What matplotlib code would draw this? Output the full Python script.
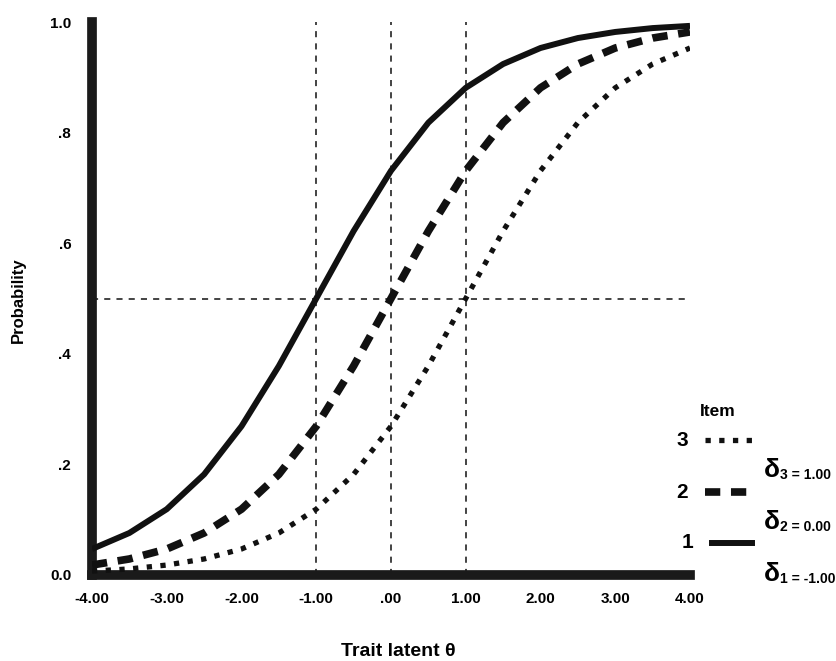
import numpy as np
import matplotlib
matplotlib.use("Agg")
import matplotlib.pyplot as plt
from matplotlib.lines import Line2D

# ---- data ----
theta = [-4.0, -3.5, -3.0, -2.5, -2.0, -1.5, -1.0, -0.5, 0.0,
         0.5, 1.0, 1.5, 2.0, 2.5, 3.0, 3.5, 4.0]
item1 = [0.047, 0.076, 0.119, 0.182, 0.269, 0.378, 0.500, 0.622, 0.731,
         0.818, 0.881, 0.924, 0.953, 0.971, 0.982, 0.989, 0.993]
item2 = [0.018, 0.029, 0.047, 0.076, 0.119, 0.182, 0.269, 0.378, 0.500,
         0.622, 0.731, 0.818, 0.881, 0.924, 0.953, 0.971, 0.982]
item3 = [0.007, 0.011, 0.018, 0.029, 0.047, 0.076, 0.119, 0.182, 0.269,
         0.378, 0.500, 0.622, 0.731, 0.818, 0.881, 0.924, 0.953]
deltas = [-1.0, 0.0, 1.0]
half_prob = 0.5
xticks = [-4, -3, -2, -1, 0, 1, 2, 3, 4]
xticklabels = ["-4.00", "-3.00", "-2.00", "-1.00", ".00", "1.00", "2.00", "3.00", "4.00"]
yticks = [0.0, 0.2, 0.4, 0.6, 0.8, 1.0]
yticklabels = ["0.0", ".2", ".4", ".6", ".8", "1.0"]
legend_items = ["3", "2", "1"]
legend_deltas = ["3 = 1.00", "2 = 0.00", "1 = -1.00"]

W, H = 837, 661
fig = plt.figure(figsize=(W / 100, H / 100), dpi=100)
fig.patch.set_facecolor("white")
FONT = "Liberation Sans"
ink = "#111111"

ax = fig.add_axes([92 / W, 1 - 575 / H, (690 - 92) / W, (575 - 22) / H])
ax.set_xlim(-4, 4)
ax.set_ylim(0, 1)

# reference lines
for d in deltas:
    ax.plot([d, d], [0, 1], color=ink, lw=1.1, ls=(0, (4, 4)), zorder=1)
ax.plot([-4, 4], [half_prob, half_prob], color=ink, lw=1.1, ls=(0, (4, 4)), zorder=1)

# curves
ax.plot(theta, item1, color=ink, lw=4.3, solid_capstyle="butt", zorder=3)
ax.plot(theta, item2, color=ink, lw=5.5, ls=(0, (2.0, 1.4)), zorder=3)
ax.plot(theta, item3, color=ink, lw=3.8, ls=(0, (1.0, 1.6)), zorder=3)

for s in ["top", "right"]:
    ax.spines[s].set_visible(False)
for s in ["left", "bottom"]:
    ax.spines[s].set_linewidth(7)
    ax.spines[s].set_color("#1a1a1a")
    ax.spines[s].set_capstyle("projecting")

ax.set_xticks(xticks)
ax.set_xticklabels(xticklabels, fontfamily=FONT, fontweight="bold", fontsize=11)
ax.set_yticks(yticks)
ax.set_yticklabels(yticklabels, fontfamily=FONT, fontweight="bold", fontsize=11)
ax.tick_params(axis="both", length=0)
ax.tick_params(axis="x", pad=12)
ax.tick_params(axis="y", pad=15)

fig.text(18 / W, 1 - 300 / H, "Probability", rotation=90, ha="center", va="center",
         fontfamily=FONT, fontweight="bold", fontsize=12)
fig.text(398 / W, 1 - 651 / H, "Trait latent θ", ha="center", va="center",
         fontfamily=FONT, fontweight="bold", fontsize=14)

# legend (drawn manually)
fig.text(718 / W, 1 - 411 / H, "Item", ha="center", va="center",
         fontfamily=FONT, fontweight="bold", fontsize=12.5)
num_x = [682, 682, 688]
num_y = [440, 492, 543]
styles = [dict(lw=3.8, ls=(0, (1.0, 1.6))),
          dict(lw=5.5, ls=(0, (2.0, 1.4))),
          dict(lw=4.3, ls="-")]
sample_x = [(705, 752), (705, 752), (712, 752)]
for lab, nx, ny, st, (sx0, sx1) in zip(legend_items, num_x, num_y, styles, sample_x):
    fig.text(nx / W, 1 - ny / H, lab, ha="center", va="center",
             fontfamily=FONT, fontweight="bold", fontsize=15)
    fig.add_artist(Line2D([sx0 / W, sx1 / W], [1 - ny / H, 1 - ny / H],
                          color=ink, transform=fig.transFigure, **st))

dy = [470, 522, 574]
for txt, yy in zip(legend_deltas, dy):
    fig.text(764 / W, 1 - yy / H, "δ", ha="left", va="center",
             fontfamily=FONT, fontweight="bold", fontsize=19)
    fig.text(780 / W, 1 - (yy + 5) / H, txt, ha="left", va="center",
             fontfamily=FONT, fontweight="bold", fontsize=10)

fig.savefig("out.png", dpi=100, facecolor="white")
